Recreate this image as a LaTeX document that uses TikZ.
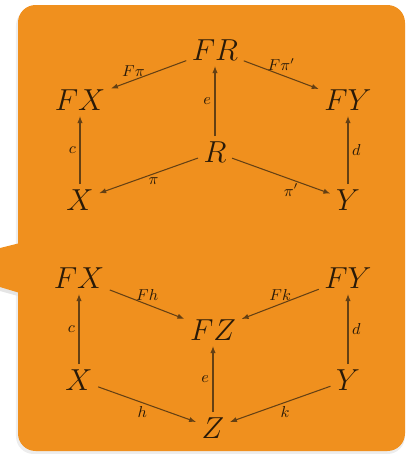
\documentclass[tikz,border=0pt]{standalone}
\usepackage{amsmath,amssymb}
\usepackage{xcolor}
\usepackage{tikz}
\usetikzlibrary{arrows.meta,positioning}

\definecolor{bubbleorange}{RGB}{240,144,30}
\definecolor{inkbrown}{RGB}{42,26,8}
\definecolor{arrowbrown}{RGB}{100,64,20}

\begin{document}
\begin{tikzpicture}[
    x=0.02cm, y=-0.02cm,
    obj/.style={text=inkbrown, font=\LARGE, inner sep=3pt},
    lbl/.style={text=inkbrown, font=\small, inner sep=2pt},
    arrow/.style={-{Latex[length=4pt,width=3pt]}, draw=arrowbrown, semithick}
]
    \useasboundingbox (0,0) rectangle (410,454);

    % Bubble with its tab
    \fill[black!7, rounded corners=10] (16,8) rectangle (405,454);
    \fill[black!10] (0,251) -- (18,247) -- (18,296) -- (0,291) -- cycle;
    \fill[bubbleorange, rounded corners=10] (18,5) rectangle (405,451);
    \fill[bubbleorange] (0,248) -- (20,243) -- (20,293) -- (0,287) -- cycle;

    % Top square: R over X and Y
    \node[obj] (FR) at (215,50) {$FR$};
    \node[obj] (FX1) at (80,100) {$FX$};
    \node[obj] (FY1) at (348,100) {$FY$};
    \node[obj] (R) at (215,152) {$R$};
    \node[obj] (X1) at (80,200) {$X$};
    \node[obj] (Y1) at (348,200) {$Y$};

    \draw[arrow] (FR) -- node[lbl, above, pos=0.7] {$F\pi$} (FX1);
    \draw[arrow] (FR) -- node[lbl, above, pos=0.5] {$F\pi'$} (FY1);
    \draw[arrow] (R) -- node[lbl, left] {$e$} (FR);
    \draw[arrow] (X1) -- node[lbl, left] {$c$} (FX1);
    \draw[arrow] (Y1) -- node[lbl, right] {$d$} (FY1);
    \draw[arrow] (R) -- node[lbl, below, pos=0.45] {$\pi$} (X1);
    \draw[arrow] (R) -- node[lbl, below, pos=0.6] {$\pi'$} (Y1);

    % Bottom square: X and Y over Z
    \node[obj] (FX2) at (79,278) {$FX$};
    \node[obj] (FY2) at (348,278) {$FY$};
    \node[obj] (FZ) at (213,330) {$FZ$};
    \node[obj] (X2) at (79,380) {$X$};
    \node[obj] (Y2) at (348,380) {$Y$};
    \node[obj] (Z) at (213,428) {$Z$};

    \draw[arrow] (FX2) -- node[lbl, above, pos=0.5] {$Fh$} (FZ);
    \draw[arrow] (FY2) -- node[lbl, above, pos=0.5] {$Fk$} (FZ);
    \draw[arrow] (X2) -- node[lbl, left] {$c$} (FX2);
    \draw[arrow] (Y2) -- node[lbl, right] {$d$} (FY2);
    \draw[arrow] (Z) -- node[lbl, left] {$e$} (FZ);
    \draw[arrow] (X2) -- node[lbl, below, pos=0.45] {$h$} (Z);
    \draw[arrow] (Y2) -- node[lbl, below, pos=0.45] {$k$} (Z);
\end{tikzpicture}
\end{document}
